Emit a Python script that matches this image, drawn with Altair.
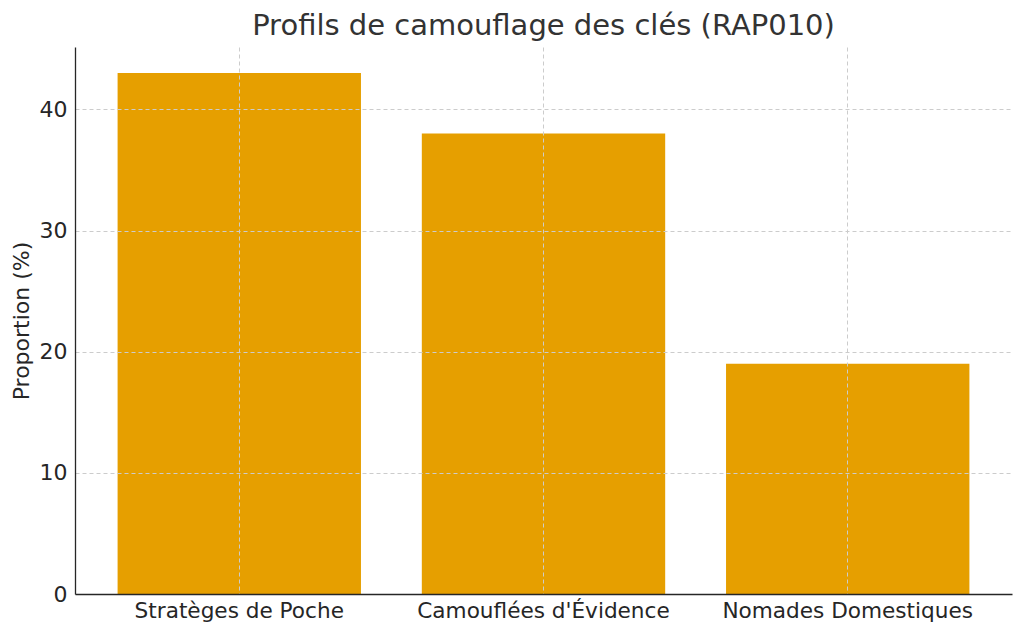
import altair as alt
import pandas as pd

categories = ["Stratèges de Poche", "Camouflées d'Évidence", "Nomades Domestiques"]
values = [43, 38, 19]

df = pd.DataFrame({"cat": categories, "val": values})

chart = alt.Chart(df).mark_bar(color="#E69F00").encode(
    x=alt.X("cat:N", sort=categories, title=None,
            scale=alt.Scale(paddingInner=0.2, paddingOuter=0.14),
            axis=alt.Axis(labelAngle=0, bandPosition=0.5, grid=True, ticks=False,
                          labelPadding=6, labelFontSize=21.6, labelLimit=0, zindex=1)),
    y=alt.Y("val:Q", title="Proportion (%)",
            scale=alt.Scale(domain=[0, 45.15], nice=False, zero=True),
            axis=alt.Axis(values=[0, 10, 20, 30, 40], grid=True, ticks=False,
                          labelPadding=8, labelFontSize=22, titleFontSize=22,
                          titlePadding=6, zindex=1, titleFontWeight="normal")),
).properties(
    width=937, height=547,
    title=alt.TitleParams("Profils de camouflage des clés (RAP010)", fontSize=29,
                          fontWeight="normal", color="#333333", offset=6,
                          font="DejaVu Sans", anchor="middle"),
    autosize=alt.AutoSizeParams(type="none"),
    padding={"left": 67, "top": 39, "right": 4, "bottom": 30},
).configure_axis(
    labelFont="DejaVu Sans", titleFont="DejaVu Sans",
    labelColor="#262626", titleColor="#262626",
    domainColor="#262626", domainWidth=1.3,
    gridColor="#cccccc", gridDash=[4, 3], gridWidth=1,
).configure_view(stroke=None)

chart.save("out.html", embed_options={"renderer": "svg", "actions": False})
